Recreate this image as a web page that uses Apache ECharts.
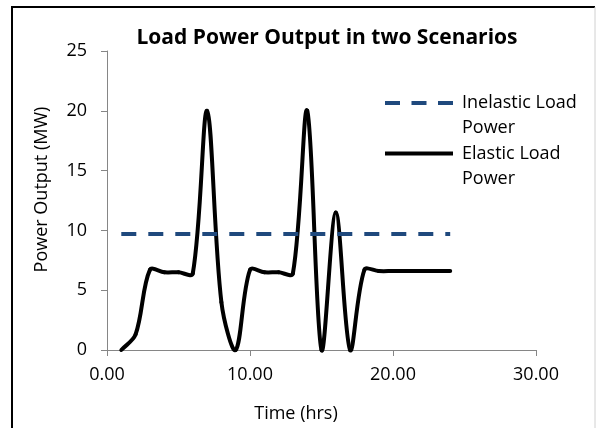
<!DOCTYPE html>
<html>
<head>
<meta charset="utf-8">
<script src="https://cdn.jsdelivr.net/npm/echarts@6/dist/echarts.min.js"></script>
<style>
  html, body { margin: 0; padding: 0; background: #fff; }
  #chart { width: 596px; height: 428px; }
</style>
</head>
<body>
<div id="chart"></div>
<script>
// hours 1..24
var hours = [1, 2, 3, 4, 5, 6, 7, 8, 9, 10, 11, 12, 13, 14, 15, 16, 17, 18, 19, 20, 21, 22, 23, 24]
var elastic = [0, 1.3, 6.7, 6.5, 6.5, 6.4, 20, 4, 0, 6.7, 6.5, 6.5, 6.4, 20, 0, 11.5, 0, 6.7, 6.6, 6.6, 6.6, 6.6, 6.6, 6.6]
var inelastic = [9.7, 9.7, 9.7, 9.7, 9.7, 9.7, 9.7, 9.7, 9.7, 9.7, 9.7, 9.7, 9.7, 9.7, 9.7, 9.7, 9.7, 9.7, 9.7, 9.7, 9.7, 9.7, 9.7, 9.7]
var xTicks = [0, 10, 20, 30]
var yTicks = [0, 5, 10, 15, 20, 25]

var FONT = 'Open Sans'
var axisGray = '#868686'

function pairs(ys) {
  return hours.map(function (h, i) { return [h, ys[i]] })
}

// excel style smoothed line, one bezier piece per data point.
// tangent split by the length of the two neighbouring segments
function renderSmooth(params, api) {
  var i = params.dataIndex
  var n = hours.length
  if (i >= n - 1) return null
  var pt = function (k) {
    k = Math.max(0, Math.min(n - 1, k))
    return api.coord([hours[k], elastic[k]])
  }
  var dist = function (a, b) { return Math.sqrt((a[0] - b[0]) * (a[0] - b[0]) + (a[1] - b[1]) * (a[1] - b[1])) }
  var s = 1 / 3
  var p0 = pt(i - 1), p1 = pt(i), p2 = pt(i + 1), p3 = pt(i + 2)
  var d01 = dist(p0, p1), d12 = dist(p1, p2), d23 = dist(p2, p3)
  var f1 = d01 + d12 > 0 ? s * d12 / (d01 + d12) : 0
  var f2 = d12 + d23 > 0 ? s * d12 / (d12 + d23) : 0
  return {
    type: 'bezierCurve',
    shape: {
      x1: p1[0], y1: p1[1],
      cpx1: p1[0] + (p2[0] - p0[0]) * f1,
      cpy1: p1[1] + (p2[1] - p0[1]) * f1,
      cpx2: p2[0] - (p3[0] - p1[0]) * f2,
      cpy2: p2[1] - (p3[1] - p1[1]) * f2,
      x2: p2[0], y2: p2[1],
    },
    style: { stroke: '#000', lineWidth: 4, fill: null, lineCap: 'round' },
  }
}

var legendText = { fontFamily: FONT, fontSize: 18, color: '#000', lineHeight: 25, padding: [0, 0, 0, 4] }

var myChart = echarts.init(document.getElementById('chart'))
var option = {
  animation: false,
  title: {
    text: 'Load Power Output in two Scenarios',
    left: 322,
    top: 23,
    textAlign: 'center',
    textStyle: { fontFamily: FONT, fontSize: 21, fontWeight: 'bold', color: '#000' },
  },
  grid: { left: 107, right: 60, top: 51, bottom: 77 },
  legend: [
    {
      data: [{ name: 'Inelastic Load Power', icon: 'path://M0,0h15v4h-15z M26.5,0h15v4h-15z M53,0h15v4h-15z' }],
      left: 385,
      top: 65.5,
      padding: 0,
      itemWidth: 68,
      itemHeight: 4,
      formatter: function () { return '\nInelastic Load\nPower' },
      textStyle: legendText,
    },
    {
      data: [{ name: 'Elastic Load Power', icon: 'rect' }],
      left: 385,
      top: 116,
      padding: 0,
      itemWidth: 68,
      itemHeight: 4,
      formatter: function () { return '\nElastic Load\nPower' },
      textStyle: legendText,
    },
  ],
  xAxis: {
    type: 'value',
    min: xTicks[0],
    max: xTicks[xTicks.length - 1],
    interval: 10,
    name: 'Time (hrs)',
    nameLocation: 'middle',
    nameGap: 55,
    nameTextStyle: { fontFamily: FONT, fontSize: 18, color: '#000', padding: [0, 51, 0, 0] },
    axisLine: { show: true, lineStyle: { color: axisGray, width: 1 } },
    axisTick: { show: true, length: 6, lineStyle: { color: axisGray } },
    axisLabel: {
      fontFamily: FONT, fontSize: 18, color: '#000', margin: 16,
      formatter: function (v) { return v.toFixed(2) },
    },
    splitLine: { show: false },
  },
  yAxis: {
    type: 'value',
    min: yTicks[0],
    max: yTicks[yTicks.length - 1],
    interval: 5,
    name: 'Power Output (MW)',
    nameLocation: 'middle',
    nameGap: 56,
    nameTextStyle: { fontFamily: FONT, fontSize: 18, color: '#000', padding: [0, 0, 0, 22] },
    axisLine: { show: true, lineStyle: { color: axisGray, width: 1 } },
    axisTick: { show: true, length: 6, lineStyle: { color: axisGray } },
    axisLabel: { fontFamily: FONT, fontSize: 18, color: '#000', margin: 20 },
    splitLine: { show: false },
  },
  series: [
    {
      name: 'Inelastic Load Power',
      type: 'line',
      data: pairs(inelastic),
      symbol: 'none',
      lineStyle: { color: '#1F497D', width: 4, type: [15, 12] },
      itemStyle: { color: '#1F497D' },
      z: 3,
    },
    {
      name: 'Elastic Load Power',
      type: 'custom',
      coordinateSystem: 'cartesian2d',
      data: pairs(elastic),
      encode: { x: 0, y: 1 },
      renderItem: renderSmooth,
      itemStyle: { color: '#000' },
      clip: false,
      z: 2,
    },
  ],
  graphic: [
    {
      type: 'polyline',
      shape: { points: [[12, 440], [12, 7], [595, 7]] },
      style: { stroke: '#000', lineWidth: 2, fill: null },
    },
    {
      type: 'line',
      shape: { x1: 595, y1: 7, x2: 595, y2: 440 },
      style: { stroke: '#d0d0d0', lineWidth: 1 },
    },
  ],
}
myChart.setOption(option)
</script>
</body>
</html>
